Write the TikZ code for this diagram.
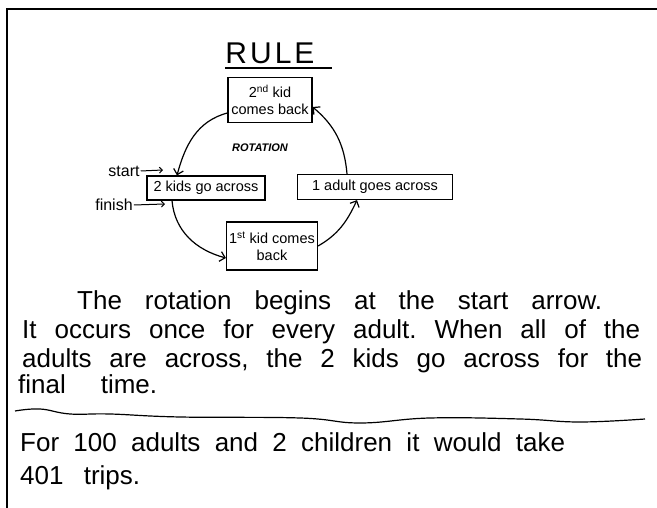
\documentclass[tikz,border=0pt]{standalone}
\usepackage{fontspec}
\setmainfont{Liberation Sans}
\usetikzlibrary{arrows.meta}
\frenchspacing

\begin{document}
\begin{tikzpicture}[
		x=1pt, y=1pt,
		every node/.style={inner sep=1pt},
		box/.style={draw, line width=1.2pt, align=center, font=\fontsize{14.5}{16.5}\selectfont},
		hand/.style={anchor=base west, inner sep=0pt, font=\fontsize{26}{30}\selectfont},
		note/.style={font=\fontsize{16}{18}\selectfont},
		tip/.style={line width=1.2pt, -{Straight Barb[length=5pt, width=10pt]}},
		small tip/.style={line width=1pt, -{Straight Barb[length=3pt, width=6pt]}}
	]
  \useasboundingbox (0,0) rectangle (657,508);
  \draw [line width=2pt] (657,498.5) -- (6.5,498.5) -- (6.5,0);

  \node (rule) [anchor=base, font=\fontsize{30}{32}\selectfont] at (270,444.5) {R\kern3pt U\kern3pt L\kern3pt E};
  \draw [line width=1.2pt] (225,440) -- (332,440);

  \node (back2) [box, minimum width=84pt, minimum height=45pt] at (270,408) {2\textsuperscript{nd} kid\\comes back};
  \node (rot) [font=\fontsize{11}{13}\selectfont\bfseries\itshape] at (260,360) {ROTATION};
  \node (across2) [box, minimum width=118pt, minimum height=24pt] at (206,320) {2 kids go across};
  \node (across1) [box, minimum width=155pt, minimum height=25pt] at (375,321) {1 adult goes across};
  \node (back1) [box, minimum width=91pt, minimum height=48pt] at (272,262) {1\textsuperscript{st} kid comes\\back};

  \node (start) [note] at (124,337) {start};
  \node (finish) [note] at (114,303) {finish};
  \coordinate (start_end) at (163,338);
  \coordinate (finish_end) at (165,304);

  \draw (start.east) edge [small tip] (start_end);
  \draw (finish.east) edge [small tip] (finish_end);
  \draw ([yshift=-13pt]back2.west) edge [tip, out=195, in=75] ([xshift=-29pt]across2.north);
  \draw ([xshift=-34pt]across2.south) edge [tip, out=-85, in=165] ([yshift=-12pt]back1.west);
  \draw (back1.east) edge [tip, out=30, in=-115] ([xshift=-18pt]across1.south);
  \draw ([xshift=-28pt]across1.north) edge [tip, out=95, in=-40] ([yshift=-7pt]back2.east);

  \node (line1) [hand] at (77,198) {\makebox[525pt][s]{The rotation begins at the start arrow.}};
  \node (line2) [hand] at (22,169) {\makebox[618pt][s]{It occurs once for every adult. When all of the}};
  \node (line3) [hand] at (22,140) {\makebox[620pt][s]{adults are across, the 2 kids go across for the}};
  \node (line4) [hand] at (18,114) {\makebox[139pt][s]{final time.}};
  \draw [line width=1.2pt] plot [smooth, tension=0.7] coordinates {(15,97) (40,99) (70,94) (110,94) (180,91) (300,90) (360,85) (430,90) (520,89) (580,86) (645,89)};
  \node (total1) [hand] at (20,56) {\makebox[545pt][s]{For 100 adults and 2 children it would take}};
  \node (total2) [hand] at (20,23) {\makebox[120pt][s]{401 trips.}};
\end{tikzpicture}
\end{document}
